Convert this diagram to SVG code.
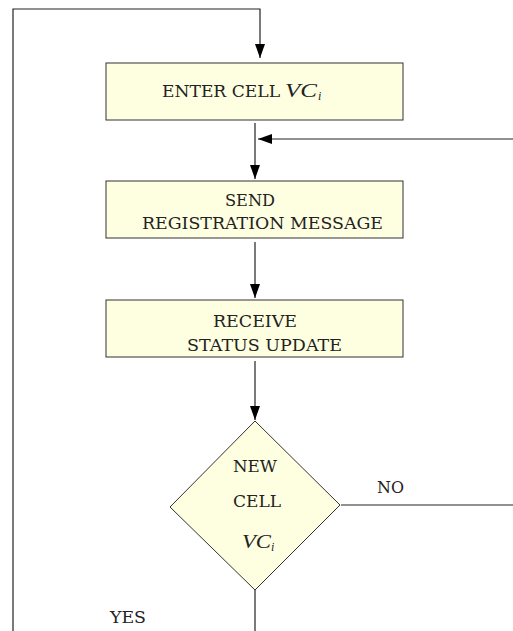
<svg xmlns="http://www.w3.org/2000/svg" width="513" height="631" viewBox="0 0 513 631">
  <style>
    .box { fill: #fefee1; stroke: #333; stroke-width: 1; }
    .line { fill: none; stroke: #222; stroke-width: 1.2; }
    text { font-family: "DejaVu Serif", "Liberation Serif", serif; font-size: 17px; fill: #222; }
    .it { font-family: "Liberation Serif", "DejaVu Serif", serif; font-style: italic; font-size: 18px; }
    .sub { font-family: "Liberation Serif", "DejaVu Serif", serif; font-style: italic; font-size: 12px; }
  </style>
  <defs>
    <marker id="arrow" viewBox="0 0 14 10" refX="14" refY="5" markerWidth="14" markerHeight="10" markerUnits="userSpaceOnUse" orient="auto">
      <path d="M0,0 L14,5 L0,10 z" fill="#000"/>
    </marker>
  </defs>
  <rect width="513" height="631" fill="#fff"/>

  <g id="connectors">
    <!-- loop back from YES branch to the top -->
    <path class="line" d="M13,631 V9 H260 V58" marker-end="url(#arrow)"/>
    <!-- ENTER CELL to SEND -->
    <path class="line" d="M255,123 V179" marker-end="url(#arrow)"/>
    <!-- NO branch returning into the flow -->
    <path class="line" d="M513,139 H258" marker-end="url(#arrow)"/>
    <!-- SEND to RECEIVE -->
    <path class="line" d="M255,242 V298" marker-end="url(#arrow)"/>
    <!-- RECEIVE to decision -->
    <path class="line" d="M255,361 V420" marker-end="url(#arrow)"/>
    <!-- decision outputs -->
    <path class="line" d="M341,505 H513"/>
    <path class="line" d="M255,590 V631"/>
  </g>

  <g id="enter-cell">
    <rect class="box" x="106" y="63" width="297" height="57"/>
    <text x="162" y="97" textLength="118" lengthAdjust="spacingAndGlyphs">ENTER CELL</text>
    <text x="285" y="97" class="it" textLength="32" lengthAdjust="spacingAndGlyphs">VC</text>
    <text x="318" y="100" class="sub">i</text>
  </g>

  <g id="send-registration">
    <rect class="box" x="106" y="181" width="297" height="57"/>
    <text x="225" y="206" textLength="50" lengthAdjust="spacingAndGlyphs">SEND</text>
    <text x="142" y="229" textLength="241" lengthAdjust="spacingAndGlyphs">REGISTRATION MESSAGE</text>
  </g>

  <g id="receive-status">
    <rect class="box" x="106" y="300" width="297" height="57"/>
    <text x="213" y="327" textLength="84" lengthAdjust="spacingAndGlyphs">RECEIVE</text>
    <text x="187" y="351" textLength="155" lengthAdjust="spacingAndGlyphs">STATUS UPDATE</text>
  </g>

  <g id="new-cell-decision">
    <polygon class="box" points="255,421 340,505 255,590 170,507"/>
    <text x="233" y="472" textLength="44" lengthAdjust="spacingAndGlyphs">NEW</text>
    <text x="233" y="507" textLength="48" lengthAdjust="spacingAndGlyphs">CELL</text>
    <text x="242" y="548" class="it" textLength="29" lengthAdjust="spacingAndGlyphs">VC</text>
    <text x="271" y="551" class="sub">i</text>
  </g>

  <g id="labels">
    <text x="377" y="493" textLength="27" lengthAdjust="spacingAndGlyphs">NO</text>
    <text x="110" y="623" textLength="36" lengthAdjust="spacingAndGlyphs">YES</text>
  </g>
</svg>
